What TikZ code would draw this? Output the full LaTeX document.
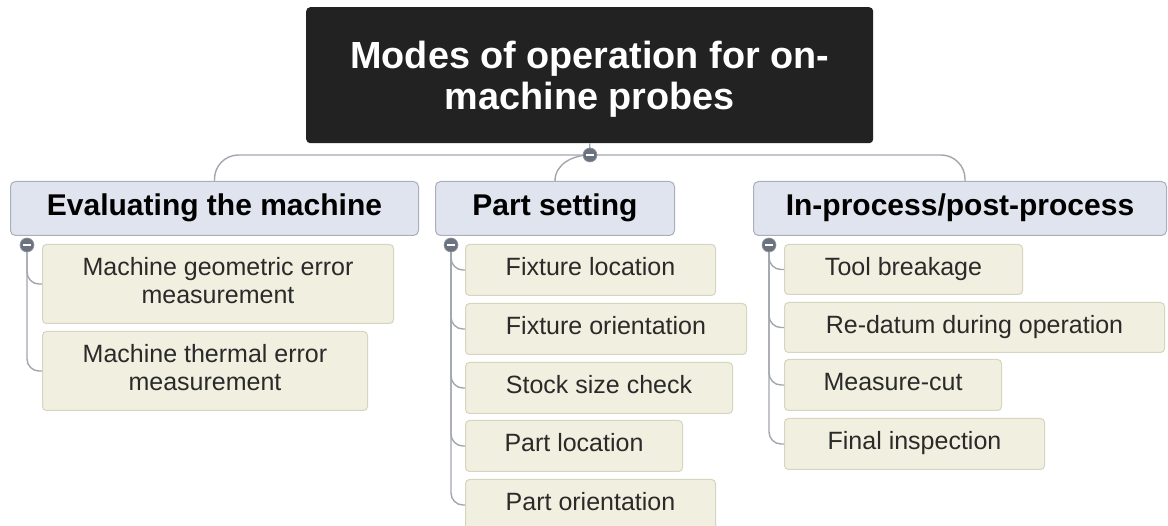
\documentclass[tikz,border=0pt]{standalone}
\usepackage{fontspec}
\setmainfont{Liberation Sans}

\definecolor{rootfill}{HTML}{222222}
\definecolor{topicfill}{HTML}{DFE4EE}
\definecolor{topicline}{HTML}{A9B0BC}
\definecolor{leaffill}{HTML}{F1EFDF}
\definecolor{leafline}{HTML}{D7D4BF}
\definecolor{wirecol}{HTML}{A2A6AD}
\definecolor{knobcol}{HTML}{6C7380}
\definecolor{leaftext}{HTML}{2A2A2A}

\tikzset{
  rootbox/.style={fill=rootfill, rounded corners=4pt, text=white,
    font=\bfseries\fontsize{37.8}{41}\selectfont, align=center,
    inner sep=0pt, text height=69pt, text depth=1pt, anchor=north west},
  topic/.style={fill=topicfill, draw=topicline, line width=1pt, rounded corners=5pt,
    font=\bfseries\fontsize{30}{36}\selectfont, inner sep=0pt,
    text height=22pt, text depth=7pt, anchor=north west},
  leaf/.style={fill=leaffill, draw=leafline, line width=1pt, rounded corners=4pt,
    text=leaftext, font=\fontsize{25}{28}\selectfont, align=center, inner sep=0pt,
    text height=18pt, text depth=6pt, anchor=north west},
  twoline/.style={text height=46pt},
  wire/.style={draw=wirecol, line width=1.4pt},
  knob/.style={circle, fill=knobcol, draw=knobcol!75, line width=0.6pt,
    minimum size=14pt, inner sep=0pt,
    path picture={\draw[white, line width=2.4pt]
      (path picture bounding box.west) ++(3pt,0) -- ++(8pt,0);}},
}

\begin{document}
\begin{tikzpicture}[x=1pt, y=-1pt]
\clip (0,0) rectangle (1168,526);
\fill[white] (0,0) rectangle (1168,526);

% central topic
\node[rootbox, minimum width=567pt, minimum height=136pt] (root) at (306,7)
  {Modes of operation for on-\\machine probes};

% main branches
\node[topic, minimum width=408pt, minimum height=54pt] (eval) at (10,181) {Evaluating the machine};
\node[topic, minimum width=239pt, minimum height=54pt] (part) at (435,181) {Part setting};
\node[topic, minimum width=413pt, minimum height=54pt] (inproc) at (753,181) {In-process/post-process};

% sub-topics: evaluating the machine
\node[leaf, twoline, minimum width=351pt, minimum height=79pt] (geo) at (42,244)
  {Machine geometric error\\measurement};
\node[leaf, twoline, minimum width=325pt, minimum height=79pt] (thermal) at (42,331)
  {Machine thermal error\\measurement};

% sub-topics: part setting
\node[leaf, minimum width=250pt, minimum height=51pt] (fixloc) at (465,244) {Fixture location};
\node[leaf, minimum width=281pt, minimum height=51pt] (fixor) at (465,303) {Fixture orientation};
\node[leaf, minimum width=267pt, minimum height=51pt] (stock) at (465,362) {Stock size check};
\node[leaf, minimum width=217pt, minimum height=51pt] (partloc) at (465,420) {Part location};
\node[leaf, minimum width=250pt, minimum height=51pt] (partor) at (465,479) {Part orientation};

% sub-topics: in-process/post-process
\node[leaf, minimum width=238pt, minimum height=50pt] (tool) at (784,244) {Tool breakage};
\node[leaf, minimum width=380pt, minimum height=50pt] (redatum) at (784,302) {Re-datum during operation};
\node[leaf, minimum width=217pt, minimum height=51pt] (measure) at (784,359) {Measure-cut};
\node[leaf, minimum width=260pt, minimum height=51pt] (final) at (784,418) {Final inspection};

% collapse-knob positions
\coordinate (hub) at (590,155);
\coordinate (k1) at (27,245);
\coordinate (k2) at (451,245);
\coordinate (k3) at (769,245);

% root to main branches
\draw[wire] (root.south) -- (hub);
\draw[wire, rounded corners=24pt] (eval.north) |- (hub) -| ([xshift=5pt]inproc.north);
\draw[wire] (hub) to[out=180, in=90] (part.north);

% branches to sub-topics
\foreach \c in {geo, thermal}
  \draw[wire, rounded corners=12pt] (k1) |- (\c.west);
\foreach \c in {fixloc, fixor, stock, partloc, partor}
  \draw[wire, rounded corners=12pt] (k2) |- (\c.west);
\foreach \c in {tool, redatum, measure, final}
  \draw[wire, rounded corners=12pt] (k3) |- (\c.west);

% collapse knobs
\node[knob] (knob0) at (hub) {};
\node[knob] (knob1) at (k1) {};
\node[knob] (knob2) at (k2) {};
\node[knob] (knob3) at (k3) {};
\end{tikzpicture}
\end{document}
